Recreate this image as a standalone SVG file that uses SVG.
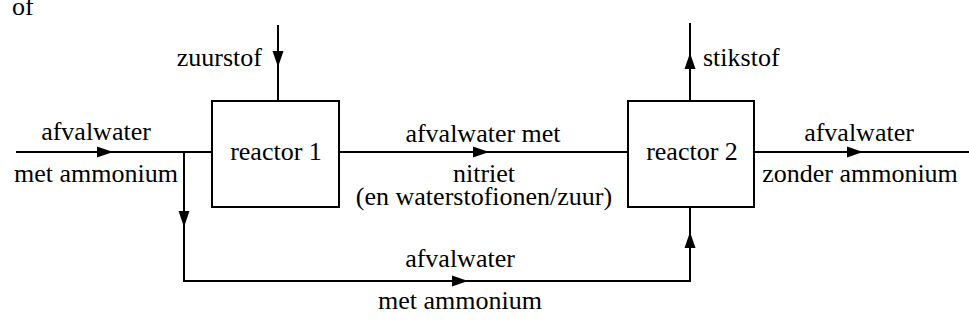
<svg xmlns="http://www.w3.org/2000/svg" xmlns:xlink="http://www.w3.org/1999/xlink" width="969" height="326" viewBox="0 0 969 326">
<style>
text{font-family:"Liberation Serif",serif;font-size:26px;fill:#000}
.c{text-anchor:middle}
.e{text-anchor:end}
.box{fill:#fff;stroke:#000;stroke-width:2}
.ln{fill:none;stroke:#000;stroke-width:2}
</style>
<defs>
<path id="ah" d="M0,0 L-16,-5.5 L-16,5.5 Z" fill="#000"/>
</defs>
<rect width="969" height="326" fill="#fff"/>
<text x="12" y="15">of</text>
<g id="connectors">
<path class="ln" d="M16,152 H212"/>
<use xlink:href="#ah" transform="translate(113,152)"/>
<path class="ln" d="M184,152 V281 H690 V207"/>
<use xlink:href="#ah" transform="translate(184,227) rotate(90)"/>
<use xlink:href="#ah" transform="translate(468,281)"/>
<use xlink:href="#ah" transform="translate(690,232) rotate(-90)"/>
<path class="ln" d="M278,25 V101"/>
<use xlink:href="#ah" transform="translate(278,67) rotate(90)"/>
<path class="ln" d="M339,152 H628"/>
<use xlink:href="#ah" transform="translate(489,152)"/>
<path class="ln" d="M690,101 V23"/>
<use xlink:href="#ah" transform="translate(690,53) rotate(-90)"/>
<path class="ln" d="M754,152 H969"/>
<use xlink:href="#ah" transform="translate(863,152)"/>
</g>
<g id="reactor1">
<rect class="box" x="212" y="101" width="127" height="106"/>
<text class="c" x="276" y="160">reactor 1</text>
</g>
<g id="reactor2">
<rect class="box" x="628" y="101" width="126" height="106"/>
<text class="c" x="692" y="160">reactor 2</text>
</g>
<g id="labels">
<text class="e" x="262" y="66">zuurstof</text>
<text x="703" y="66">stikstof</text>
<text class="c" x="96" y="140">afvalwater</text>
<text class="c" x="96" y="182">met ammonium</text>
<text class="c" x="483" y="142">afvalwater met</text>
<text class="c" x="484" y="182">nitriet</text>
<text class="c" x="484" y="205">(en waterstofionen/zuur)</text>
<text class="c" x="859" y="141">afvalwater</text>
<text class="c" x="860" y="182">zonder ammonium</text>
<text class="c" x="460" y="267">afvalwater</text>
<text class="c" x="460" y="309">met ammonium</text>
</g>
</svg>
